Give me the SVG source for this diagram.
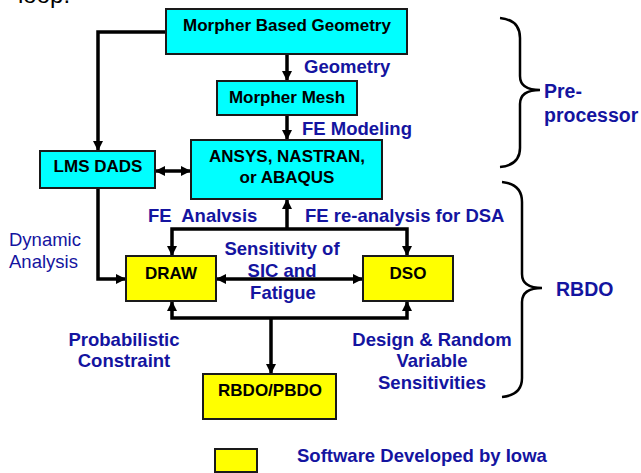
<svg xmlns="http://www.w3.org/2000/svg" width="641" height="473" viewBox="0 0 641 473">
<style>
.cy{fill:#00FFFF;stroke:#1a1a1a;stroke-width:2}
.ye{fill:#FFFF00;stroke:#1a1a1a;stroke-width:2}
.bt{font-family:"Liberation Sans",Arial,sans-serif;font-weight:bold;font-size:17px;fill:#000;text-anchor:middle}
.bl{font-family:"Liberation Sans",Arial,sans-serif;font-weight:bold;font-size:18.5px;fill:#1414A0}
.blr{font-family:"Liberation Sans",Arial,sans-serif;font-size:18.5px;fill:#1414A0}
.big{font-family:"Liberation Sans",Arial,sans-serif;font-weight:bold;font-size:19.5px;fill:#1414A0}
.mid{text-anchor:middle}
.ln{fill:none;stroke:#000;stroke-width:3.5}
.br{fill:none;stroke:#000;stroke-width:2.5}
</style>
<defs>
<marker id="ah" viewBox="0 0 10 10" refX="9" refY="5" markerWidth="10" markerHeight="11" markerUnits="userSpaceOnUse" orient="auto-start-reverse">
<path d="M0,0 L10,5 L0,10 z" fill="#000"/>
</marker>
</defs>
<rect width="641" height="473" fill="#fff"/>
<text x="18" y="2.5" font-family="Liberation Sans, Arial, sans-serif" font-size="24" fill="#000">loop.</text>

<g id="connectors">
<path class="ln" d="M287,54 L287,80" marker-end="url(#ah)"/>
<path class="ln" d="M287,115 L287,139" marker-end="url(#ah)"/>
<path class="ln" d="M166,32 L98,32 L98,150" marker-end="url(#ah)"/>
<path class="ln" d="M156,171 L190,171" marker-start="url(#ah)" marker-end="url(#ah)"/>
<path class="ln" d="M98,188 L98,279 L125,279" marker-end="url(#ah)"/>
<path class="ln" d="M287,229 L287,200" marker-end="url(#ah)"/>
<path class="ln" d="M172,255 L172,229 L407,229 L407,255" marker-start="url(#ah)" marker-end="url(#ah)"/>
<path class="ln" d="M217,279 L362,279" marker-start="url(#ah)" marker-end="url(#ah)"/>
<path class="ln" d="M172,302 L172,318 L407,318 L407,302" marker-start="url(#ah)" marker-end="url(#ah)"/>
<path class="ln" d="M271,318 L271,373" marker-end="url(#ah)"/>
</g>

<g id="node-mbg">
<rect class="cy" x="166" y="9" width="241" height="45"/>
<text class="bt" x="287" y="31">Morpher Based Geometry</text>
</g>
<g id="node-mesh">
<rect class="cy" x="217" y="81" width="140" height="34"/>
<text class="bt" x="287" y="103">Morpher Mesh</text>
</g>
<g id="node-ansys">
<rect class="cy" x="191" y="140" width="191" height="59"/>
<text class="bt" x="287" y="162">ANSYS, NASTRAN,</text>
<text class="bt" x="287" y="183">or ABAQUS</text>
</g>
<g id="node-lms">
<rect class="cy" x="40" y="151" width="115" height="37"/>
<text class="bt" x="98" y="172">LMS DADS</text>
</g>
<g id="node-draw">
<rect class="ye" x="126" y="256" width="90" height="45"/>
<text class="bt" x="171" y="279">DRAW</text>
</g>
<g id="node-dso">
<rect class="ye" x="363" y="256" width="90" height="45"/>
<text class="bt" x="408" y="279">DSO</text>
</g>
<g id="node-rbdo">
<rect class="ye" x="203" y="374" width="133" height="45"/>
<text class="bt" x="270" y="396">RBDO/PBDO</text>
</g>

<g id="labels">
<text class="bl" x="304" y="73">Geometry</text>
<text class="bl" x="302" y="135">FE Modeling</text>
<text class="bl" x="148" y="222" xml:space="preserve">FE  Analvsis</text>
<text class="bl" x="305" y="222">FE re-analysis for DSA</text>
<text class="bl mid" x="282" y="255">Sensitivity of</text>
<text class="bl mid" x="282" y="277">SIC and</text>
<text class="bl mid" x="283" y="299">Fatigue</text>
<text class="bl mid" x="124" y="346">Probabilistic</text>
<text class="bl mid" x="124" y="367">Constraint</text>
<text class="bl mid" x="432" y="346">Design &amp; Random</text>
<text class="bl mid" x="432" y="367">Variable</text>
<text class="bl mid" x="432" y="389">Sensitivities</text>
<text class="blr" x="9" y="246">Dynamic</text>
<text class="blr" x="9" y="268">Analysis</text>
</g>

<g id="brace-pre">
<path class="br" d="M500,18 Q520,20 520,38 L520,76 Q520,90 540,90 Q520,90 520,104 L520,148 Q520,165 500,167"/>
<text class="big" x="544" y="98">Pre-</text>
<text class="big" x="544" y="122">processor</text>
</g>
<g id="brace-rbdo">
<path class="br" d="M502,182 Q522,184 522,202 L522,274 Q522,288 542,288 Q522,288 522,302 L522,378 Q522,395 502,397"/>
<text class="big" x="556" y="296">RBDO</text>
</g>

<g id="legend">
<rect class="ye" x="215" y="449" width="42" height="23"/>
<text class="bl" x="297" y="462">Software Developed by Iowa</text>
</g>
</svg>
